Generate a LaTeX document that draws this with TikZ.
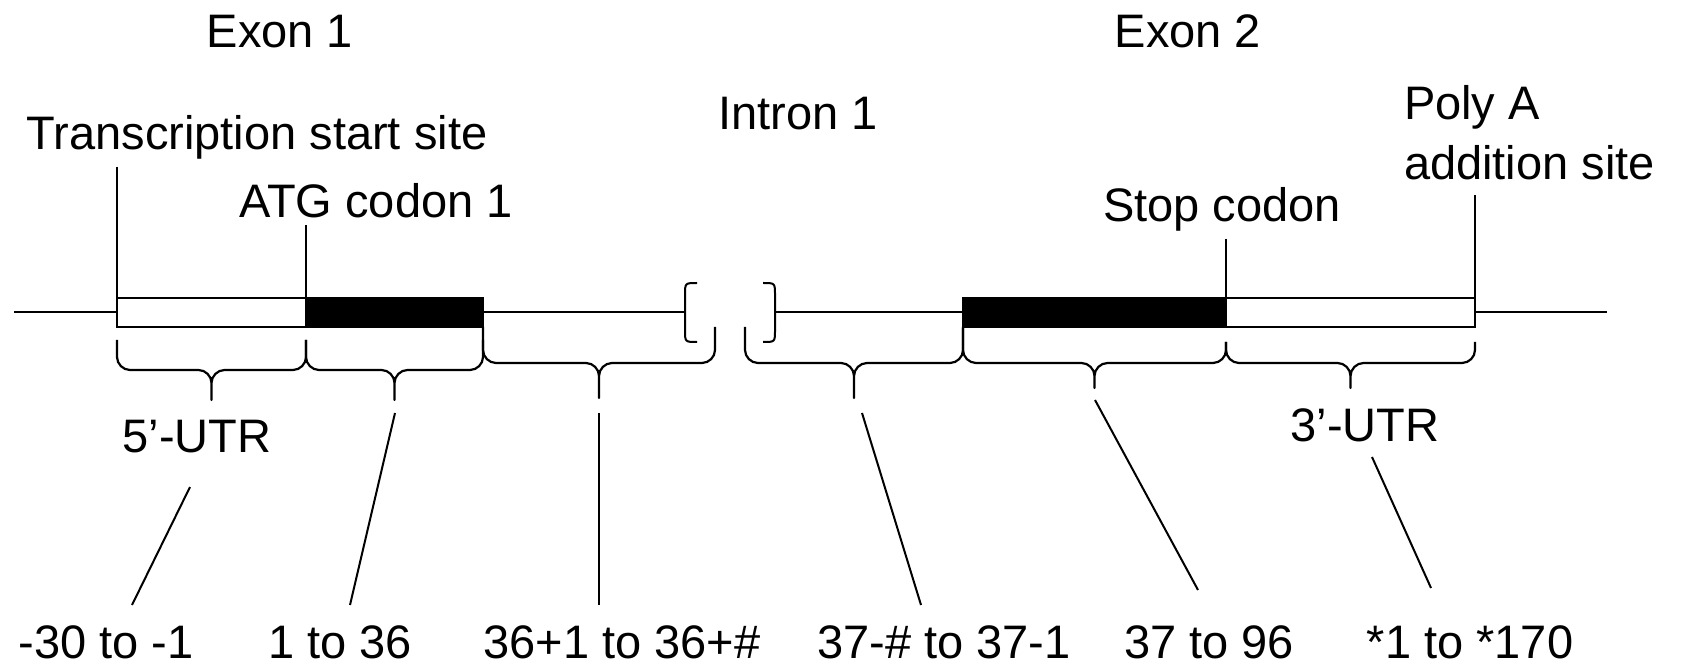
\documentclass[tikz,border=0pt]{standalone}
\usepackage{fontspec}
\setmainfont{Liberation Sans}
\usetikzlibrary{calc}

\begin{document}
\begin{tikzpicture}[
		x=0.5pt, y=-0.5pt,% one unit = one pixel of the drawing, y going down
		T/.style = {inner sep=3.3pt, anchor=base,
			font=\fontsize{23.5}{28}\selectfont},% labels
		S/.style = {line width=1pt},% leader lines
		E/.style = {draw, line width=1.3pt},% exon boxes
		W/.style = {E, fill=white},
		K/.style = {E, fill=black},
		B/.style = {line width=1.1pt, line join=round},% braces
		]
		\useasboundingbox (0,0) rectangle (1684,667);
		% labels on top
		\node[T] (exon1)  at (280,48)  {Exon 1};
		\node[T] (exon2)  at (1188,48) {Exon 2};
		\node[T] (intron) at (798,130) {Intron 1};
		\node[T] (tss)    at (257,150) {Transcription start site};
		\node[T] (atg)    at (376,218) {ATG codon 1};
		\node[T] (stop)   at (1222,222) {Stop codon};
		\node[T, anchor=base west] (polya) at (1397,120) {Poly A};
		\node[T, anchor=base west] (adds)  at (1397,180) {addition site};
		% the gene
		\draw[S] (14,312) -- (685,312);
		\draw[S] (775,312) -- (1607,312);
		\draw[S] (697,283) .. controls (685,283) .. (685,295) -- (685,330) .. controls (685,342) .. (697,342);
		\draw[S] (763,283) .. controls (775,283) .. (775,295) -- (775,330) .. controls (775,342) .. (763,342);
		\draw[W] (117,298) rectangle (306,327);
		\draw[K] (306,298) rectangle (483,327);
		\draw[K] (963,298) rectangle (1226,327);
		\draw[W] (1226,298) rectangle (1475,327);
		\coordinate (tssx)  at (117,298);
		\coordinate (atgx)  at (306,298);
		\coordinate (stopx) at (1226,298);
		\coordinate (polyx) at (1475,298);
		\draw[S] (tss.south -| tssx) -- (tssx);
		\draw[S] (atg.south -| atgx) -- (atgx);
		\draw[S] (stop.south -| stopx) -- (stopx);
		\draw[S, shorten <=4pt] (adds.south -| polyx) -- (polyx);
		% braces under the segments
		\foreach \xa/\ya/\xb/\yb/\ym/\yt in {117/340/306/340/370/400, 306/340/483/340/370/400,
			483/327/715/327/363/398, 745/327/963/327/363/398,
			963/328/1226/342/363/388, 1226/342/1475/342/363/388}
		{
			\pgfmathsetmacro\xm{(\xa+\xb)/2}
			\draw[B] (\xa,\ya) -- (\xa,\ym-13) .. controls (\xa,\ym-6) and (\xa+6,\ym) .. (\xa+13,\ym)
				-- (\xm-13,\ym) .. controls (\xm-6,\ym) and (\xm,\ym+6) .. (\xm,\ym+13) -- (\xm,\yt)
				-- (\xm,\ym+13) .. controls (\xm,\ym+6) and (\xm+6,\ym) .. (\xm+13,\ym)
				-- (\xb-13,\ym) .. controls (\xb-6,\ym) and (\xb,\ym-6) .. (\xb,\ym-13) -- (\xb,\yb);
		}
		\node[T] (utr5) at (197,452)  {5’-UTR};
		\node[T] (utr3) at (1365,442) {3’-UTR};
		% numbering
		\node[T] (r1) at (106,658)  {-30 to -1};
		\node[T] (r2) at (340,658)  {1 to 36};
		\node[T] (r3) at (622,658)  {36+1 to 36+\#};
		\node[T] (r4) at (944,658)  {37-\# to 37-1};
		\node[T] (r5) at (1209,658) {37 to 96};
		\node[T] (r6) at (1470,658) {*1 to *170};
		\foreach \i/\xa/\ya/\xb/\yb in {1/190/487/132/605, 2/395/413/350/605, 3/599/413/599/605,
			4/862/413/921/605, 5/1095/400/1198/590, 6/1372/457/1431/588}
		{
			\coordinate (a\i) at (\xa,\ya);
			\coordinate (b\i) at (\xb,\yb);
			\draw[S] (a\i) -- (b\i);
		}
	\end{tikzpicture}
\end{document}
